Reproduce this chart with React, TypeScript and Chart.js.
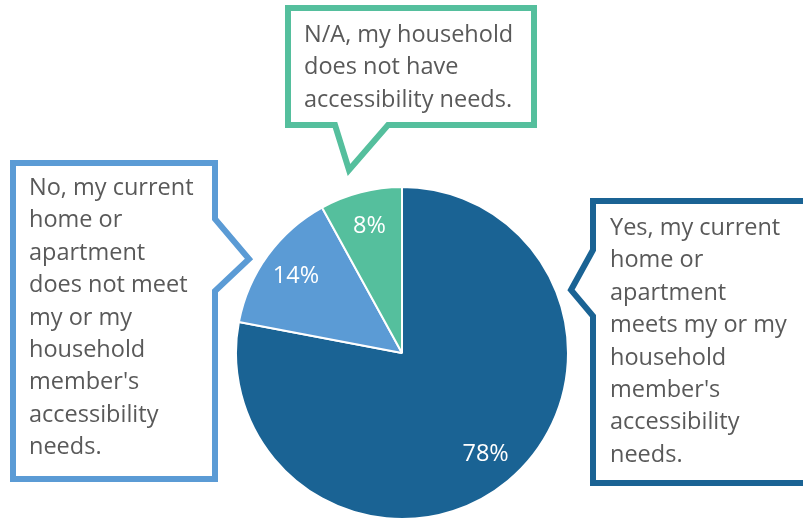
import React, { useEffect, useRef } from "react";
import { Chart, registerables } from "chart.js";

Chart.register(...registerables);

// ---- data ----
const categories = [
  "Yes, my current home or apartment meets my or my household member's accessibility needs.",
  "No, my current home or apartment does not meet my or my household member's accessibility needs.",
  "N/A, my household does not have accessibility needs.",
];
const values = [78, 14, 8];
const valueLabels = ["78%", "14%", "8%"];
const yesLines = ["Yes, my current", "home or", "apartment", "meets my or my", "household", "member's", "accessibility", "needs."];
const noLines = ["No, my current", "home or", "apartment", "does not meet", "my or my", "household", "member's", "accessibility", "needs."];
const naLines = ["N/A, my household", "does not have", "accessibility needs."];
const calloutLines = [yesLines, noLines, naLines];

// ---- styles / layout ----
const colors = ["#1a6394", "#5b9bd5", "#55bf9d"];
const TEXT_COLOR = "#595959";
const FONT = '23.5px "Open Sans"';
const LINE_STEP = 32.4;

type Callout = { path: number[][]; textX: number; firstBaseline: number };
const calloutLayout: Callout[] = [
  {
    path: [[593, 201], [806, 201], [806, 483], [593, 483], [593, 316], [571, 290], [593, 250]],
    textX: 610,
    firstBaseline: 235,
  },
  {
    path: [[13, 163], [215, 163], [215, 219], [249, 259], [215, 291], [215, 479], [13, 479]],
    textX: 29,
    firstBaseline: 195,
  },
  {
    path: [[288, 8], [534, 8], [534, 125], [388, 125], [349, 170], [335, 125], [288, 125]],
    textX: 304,
    firstBaseline: 42,
  },
];

const calloutPlugin = {
  id: "callouts",
  afterDraw(chart: any) {
    const ctx = chart.ctx as CanvasRenderingContext2D;
    const meta = chart.getDatasetMeta(0);
    ctx.save();
    // value labels inside slices
    ctx.font = FONT;
    ctx.fillStyle = "#ffffff";
    ctx.textAlign = "center";
    ctx.textBaseline = "middle";
    meta.data.forEach((arc: any, i: number) => {
      const p = arc.getProps(["x", "y", "startAngle", "endAngle", "outerRadius"], true);
      const mid = (p.startAngle + p.endAngle) / 2;
      const r = p.outerRadius * 0.79;
      ctx.fillText(valueLabels[i], p.x + Math.cos(mid) * r, p.y + Math.sin(mid) * r);
    });
    // callout boxes
    calloutLayout.forEach((c, i) => {
      ctx.beginPath();
      c.path.forEach(([x, y], k) => (k === 0 ? ctx.moveTo(x, y) : ctx.lineTo(x, y)));
      ctx.closePath();
      ctx.fillStyle = "#ffffff";
      ctx.fill();
      ctx.lineWidth = 6;
      ctx.lineJoin = "miter";
      ctx.strokeStyle = colors[i];
      ctx.stroke();
      ctx.font = FONT;
      ctx.fillStyle = TEXT_COLOR;
      ctx.textAlign = "left";
      ctx.textBaseline = "alphabetic";
      calloutLines[i].forEach((line, k) => {
        ctx.fillText(line, c.textX, c.firstBaseline + k * LINE_STEP);
      });
    });
    ctx.restore();
  },
};

export default function App() {
  const ref = useRef<HTMLCanvasElement | null>(null);
  useEffect(() => {
    if (!ref.current) return;
    const chart = new Chart(ref.current, {
      type: "pie",
      data: {
        labels: categories,
        datasets: [
          {
            data: values,
            backgroundColor: colors,
            borderColor: "#ffffff",
            borderWidth: 2,
          },
        ],
      },
      options: {
        animation: false,
        responsive: true,
        maintainAspectRatio: false,
        layout: { padding: { left: 235, right: 234, top: 186, bottom: 1 } },
        plugins: {
          legend: { display: false },
          tooltip: { enabled: false },
        },
      },
      plugins: [calloutPlugin],
    });
    return () => chart.destroy();
  }, []);
  return (
    <div style={{ position: "fixed", left: 0, top: 0, width: 803, height: 521, background: "#ffffff" }}>
      <canvas ref={ref} />
    </div>
  );
}
